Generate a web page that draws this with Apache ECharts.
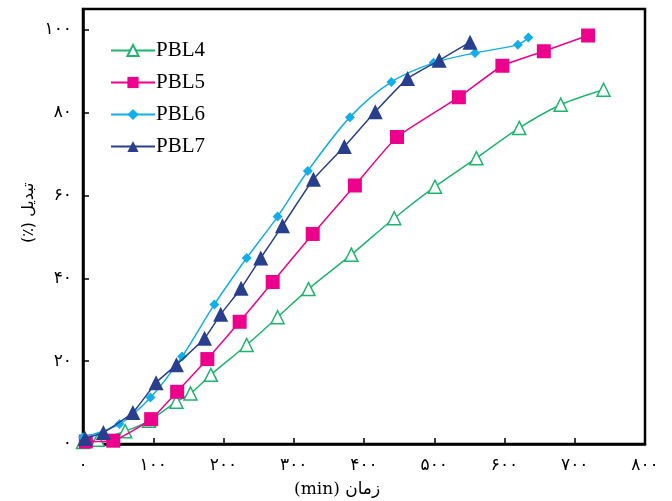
<!DOCTYPE html>
<html>
<head>
<meta charset="utf-8">
<script src="https://cdn.jsdelivr.net/npm/echarts@6/dist/echarts.min.js"></script>
<style>html,body{margin:0;padding:0;background:#fff;}#c{width:672px;height:501px;}</style>
</head>
<body>
<div id="c"></div>
<script>
// Data (time in min, conversion in %)
const seriesNames = ['PBL4', 'PBL5', 'PBL6', 'PBL7'];
const pbl4 = [[0,0.5],[21,1.0],[60,3.1],[94,5.6],[133,10.2],[153,12.2],[182,16.7],[233,23.9],[277,30.6],[321,37.4],[382,45.7],[443,54.5],[501,62.1],[560,69.0],[621,76.3],[680,81.9],[741,85.5]];
const pbl5 = [[4,0.6],[43,0.8],[97,6.0],[134,12.6],[177,20.5],[223,29.5],[270,39.1],[327,50.7],[387,62.4],[447,74.1],[535,83.7],[597,91.3],[656,94.8],[719,98.6]];
const pbl6 = [[0,1.6],[52,4.8],[96,11.2],[141,21.1],[187,33.7],[233,44.9],[277,54.9],[320,65.9],[380,78.9],[439,87.4],[499,92.0],[558,94.4],[619,96.4],[634,98.1]];
const pbl7 = [[3,1.3],[29,2.8],[71,7.6],[104,14.8],[133,19.1],[173,25.5],[196,31.3],[225,37.6],[253,44.9],[284,52.7],[328,63.9],[372,71.8],[416,80.2],[462,88.2],[507,92.6],[551,97.0]];
const xTickLabels = ['۰','۱۰۰','۲۰۰','۳۰۰','۴۰۰','۵۰۰','۶۰۰','۷۰۰','۸۰۰'];
const yTickLabels = ['۰','۲۰','۴۰','۶۰','۸۰','۱۰۰'];
const xTitle = 'زمان (min)';
const yTitle = 'تبدیل (٪)';

const RLE = '\u202B', PDF = '\u202C';
const colors = ['#1db56e', '#ec008c', '#12aee8', '#283f8e'];
const chart = echarts.init(document.getElementById('c'), null, {renderer: 'canvas'});
const labelFont = {fontFamily: 'DejaVu Sans', fontSize: 17, color: '#000'};

chart.setOption({
  animation: false,
  backgroundColor: '#fff',
  grid: {left: 83, right: 27, top: 9, bottom: 57, show: true, borderColor: '#000', borderWidth: 2.5, containLabel: false},
  legend: {
    orient: 'vertical', left: 105, top: 35,
    itemWidth: 44, itemHeight: 14, itemGap: 11,
    data: seriesNames,
    textStyle: {fontFamily: 'Liberation Serif', fontSize: 21, color: '#000', lineHeight: 21, padding: [0,0,0,-4]}
  },
  xAxis: {
    type: 'value', min: 0, max: 800, interval: 100,
    axisLine: {show: true, lineStyle: {color: '#000', width: 2.5}},
    axisTick: {show: true, inside: true, length: 6, lineStyle: {color: '#000', width: 1.5}},
    splitLine: {show: false},
    axisLabel: Object.assign({margin: 13, formatter: v => xTickLabels[Math.round(v / 100)] || ''}, labelFont)
  },
  yAxis: {
    type: 'value', min: 0, max: 105, interval: 20,
    axisLine: {show: true, lineStyle: {color: '#000', width: 2.5}},
    axisTick: {show: true, inside: true, length: 6, lineStyle: {color: '#000', width: 1.5}},
    splitLine: {show: false},
    axisLabel: Object.assign({margin: 11, formatter: v => (v % 20 === 0 ? yTickLabels[v / 20] : '')}, labelFont)
  },
  graphic: [
    {type: 'text', left: 294, top: 481, style: {text: RLE + xTitle + PDF, font: '17px "DejaVu Serif", "DejaVu Sans"', fill: '#000'}},
    {type: 'text', x: 21, y: 243, rotation: Math.PI / 2, style: {text: RLE + yTitle + PDF, font: '16px "DejaVu Sans"', fill: '#000'}}
  ],
  series: [
    {name: 'PBL4', type: 'line', data: pbl4, smooth: 0.3, symbol: 'triangle', symbolSize: 13,
     lineStyle: {color: colors[0], width: 1.5}, itemStyle: {color: '#fff', borderColor: colors[0], borderWidth: 1.5}, z: 2},
    {name: 'PBL5', type: 'line', data: pbl5, smooth: 0.15, symbol: 'rect', symbolSize: 14,
     lineStyle: {color: colors[1], width: 1.5}, itemStyle: {color: colors[1]}, z: 3},
    {name: 'PBL6', type: 'line', data: pbl6, smooth: 0.3, symbol: 'diamond', symbolSize: 10,
     lineStyle: {color: colors[2], width: 1.5}, itemStyle: {color: colors[2]}, z: 4},
    {name: 'PBL7', type: 'line', data: pbl7, smooth: 0.15, symbol: 'triangle', symbolSize: 15,
     lineStyle: {color: colors[3], width: 1.5}, itemStyle: {color: colors[3]}, z: 5}
  ]
});
</script>
</body>
</html>
